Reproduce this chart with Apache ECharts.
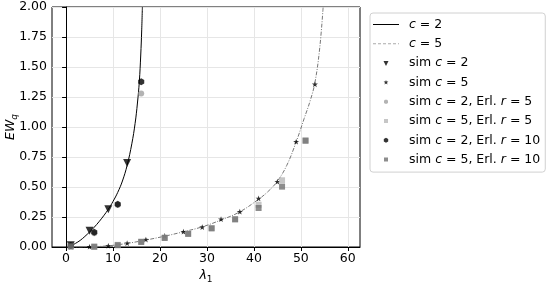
<!DOCTYPE html>
<html>
<head>
    <meta charset="utf-8"/>
    <title>EWq</title>
    <script src="https://cdn.jsdelivr.net/npm/echarts@6/dist/echarts.min.js"></script>
    <style>
        body { margin: 0; background: #fff; }
        #main { width: 550px; height: 284px; }
    </style>
</head>
<body>
<div id="main"></div>
<script type="text/javascript">
    // tick labels
    var xTicks = [0, 10, 20, 30, 40, 50, 60];

    // theoretical curves
    var curveC2 = [[1, 0.008], [2, 0.03], [3, 0.055], [4, 0.088], [5, 0.125], [6, 0.165], [7, 0.21],
        [8, 0.26], [9, 0.315], [10, 0.38], [11, 0.455], [12, 0.55], [13, 0.68], [14, 0.86],
        [14.7, 1.03], [15.2, 1.2], [15.6, 1.38], [15.9, 1.6], [16.1, 1.8], [16.25, 2.0]];
    var curveC5 = [[1, 0.0], [5, 0.002], [9, 0.01], [13, 0.03], [17, 0.058], [21, 0.09], [25, 0.127],
        [29, 0.168], [33, 0.225], [37, 0.293], [41, 0.398], [43, 0.462], [45, 0.548], [47, 0.68],
        [49, 0.875], [50.7, 1.07], [52, 1.22], [53, 1.37], [54, 1.65], [54.75, 2.0]];

    // simulation points
    var simC2 = [[1, 0.015], [5, 0.135], [9, 0.315], [13, 0.70]];
    var simC5 = [[1, 0.0], [5, 0.002], [9, 0.01], [13, 0.032], [17, 0.062], [21, 0.093], [25, 0.128],
        [29, 0.166], [33, 0.232], [37, 0.294], [41, 0.405], [45, 0.545], [49, 0.878], [53, 1.356]];
    var simC2r5 = [[1, 0.01], [6, 0.115], [11, 0.35], [16, 1.28]];
    var simC5r5 = [[1, 0.005], [6, 0.003], [11, 0.018], [16, 0.045], [21, 0.08], [26, 0.113],
        [31, 0.158], [36, 0.233], [41, 0.352], [46, 0.556], [51, 0.89]];
    var simC2r10 = [[1, 0.012], [6, 0.122], [11, 0.356], [16, 1.378]];
    var simC5r10 = [[1, 0.005], [6, 0.002], [11, 0.015], [16, 0.042], [21, 0.075], [26, 0.109],
        [31, 0.155], [36, 0.23], [41, 0.325], [46, 0.503], [51, 0.885]];

    var STAR = 'path://M0,-10L2.35,-3.24L9.51,-3.09L3.8,1.24L5.88,8.09L0,4L-5.88,8.09L-3.8,1.24L-9.51,-3.09L-2.35,-3.24Z';
    var HEX = 'path://M0,-10L8.66,-5L8.66,5L0,10L-8.66,5L-8.66,-5Z';

    // legend icons: a 26x10 box (corner points) with a small mark in the middle
    var BOX = 'M-13,-5L-13,-5Z M13,5L13,5Z ';
    var legendIcons = {
        'c = 2': 'path://M-13,-0.5L13,-0.5L13,0.5L-13,0.5Z',
        'c = 5': 'path://M-13,-0.5L-10,-0.5L-10,0.5L-13,0.5Z M-8,-0.5L-5,-0.5L-5,0.5L-8,0.5Z M-3,-0.5L0,-0.5L0,0.5L-3,0.5Z M2,-0.5L5,-0.5L5,0.5L2,0.5Z M7,-0.5L10,-0.5L10,0.5L7,0.5Z M12,-0.5L13,-0.5L13,0.5L12,0.5Z',
        'sim c = 2': 'path://' + BOX + 'M-2.5,-2.2L2.5,-2.2L0,2.8Z',
        'sim c = 5': 'path://' + BOX + 'M0,-2.5L0.6,-0.8L2.4,-0.8L1,0.3L1.5,2L0,1L-1.5,2L-1,0.3L-2.4,-0.8L-0.6,-0.8Z',
        'sim c = 2, Erl. r = 5': 'path://' + BOX + 'M-2,-1L-1,-2L1,-2L2,-1L2,1L1,2L-1,2L-2,1Z',
        'sim c = 5, Erl. r = 5': 'path://' + BOX + 'M-2,-2L2,-2L2,2L-2,2Z',
        'sim c = 2, Erl. r = 10': 'path://' + BOX + 'M0,-2.5L2.2,-1.25L2.2,1.25L0,2.5L-2.2,1.25L-2.2,-1.25Z',
        'sim c = 5, Erl. r = 10': 'path://' + BOX + 'M-2,-2L2,-2L2,2L-2,2Z'
    };
    var legendNames = Object.keys(legendIcons);

    var font = 'DejaVu Sans';
    var fs = 12.5;
    var rich = {
        i: {fontFamily: font, fontSize: fs, fontStyle: 'italic', color: '#000'},
        n: {fontFamily: font, fontSize: fs, color: '#000'}
    };

    var chart = echarts.init(document.getElementById('main'));
    chart.setOption({
        animation: false,
        grid: {
            left: 52, right: 190, top: 7, bottom: 37,
            outerBoundsMode: 'none', containLabel: false,
            show: true, borderColor: '#000', borderWidth: 1
        },
        legend: {
            orient: 'vertical',
            left: 370, top: 13,
            padding: [4, 5, 5, 3],
            itemWidth: 26, itemHeight: 10, itemGap: 4.3,
            backgroundColor: '#fff',
            borderColor: '#d0d0d0', borderWidth: 1, borderRadius: 3,
            textStyle: {fontFamily: font, fontSize: fs, color: '#000', lineHeight: 15, padding: [0, 0, 0, 5], rich: rich},
            data: legendNames.map(function (n) { return {name: n, icon: legendIcons[n]}; }),
            formatter: function (name) {
                return {
                    'c = 2': '{i|c} {n|= 2}',
                    'c = 5': '{i|c} {n|= 5}',
                    'sim c = 2': '{n|sim} {i|c} {n|= 2}',
                    'sim c = 5': '{n|sim} {i|c} {n|= 5}',
                    'sim c = 2, Erl. r = 5': '{n|sim} {i|c} {n|= 2, Erl.} {i|r} {n|= 5}',
                    'sim c = 5, Erl. r = 5': '{n|sim} {i|c} {n|= 5, Erl.} {i|r} {n|= 5}',
                    'sim c = 2, Erl. r = 10': '{n|sim} {i|c} {n|= 2, Erl.} {i|r} {n|= 10}',
                    'sim c = 5, Erl. r = 10': '{n|sim} {i|c} {n|= 5, Erl.} {i|r} {n|= 10}'
                }[name];
            }
        },
        xAxis: {
            type: 'value', min: -3, max: 62.6,
            name: '{i|λ}{s|1}', nameLocation: 'middle', nameGap: 21, nameMoveOverlap: false,
            nameTextStyle: {
                rich: {
                    i: {fontFamily: font, fontSize: fs, fontStyle: 'italic', color: '#000'},
                    s: {fontFamily: font, fontSize: 9, color: '#000', padding: [7, 0, 0, 0]}
                }
            },
            axisLine: {show: true, lineStyle: {color: '#000'}},
            axisTick: {show: true, customValues: xTicks, length: 4, lineStyle: {color: '#000'}},
            axisLabel: {customValues: xTicks, fontFamily: font, fontSize: fs, color: '#000', margin: 5},
            splitLine: {show: true, lineStyle: {color: '#e6e6e6'}}
        },
        yAxis: {
            type: 'value', min: 0, max: 2, interval: 0.25,
            name: '{i|EW}{s|q}', nameLocation: 'middle', nameGap: 33, nameRotate: 90, nameMoveOverlap: false,
            nameTextStyle: {
                rich: {
                    i: {fontFamily: font, fontSize: fs, fontStyle: 'italic', color: '#000'},
                    s: {fontFamily: font, fontSize: 9, fontStyle: 'italic', color: '#000', padding: [7, 0, 0, 0]}
                }
            },
            axisLine: {show: true, lineStyle: {color: '#000'}},
            axisTick: {show: true, length: 4, lineStyle: {color: '#000'}},
            axisLabel: {
                fontFamily: font, fontSize: fs, color: '#000', margin: 5,
                formatter: function (v) { return v.toFixed(2); }
            },
            splitLine: {show: true, lineStyle: {color: '#e6e6e6'}}
        },
        series: [
            {
                name: 'c = 2', type: 'line', data: curveC2, smooth: 0.4,
                showSymbol: false, symbol: 'none', itemStyle: {color: '#000'},
                lineStyle: {color: '#000', width: 1}, z: 3
            },
            {
                name: 'c = 5', type: 'line', data: curveC5, smooth: 0.4,
                showSymbol: false, symbol: 'none', itemStyle: {color: '#aaa'},
                lineStyle: {color: '#777', width: 1, type: [4, 1.5, 1, 1.5]}, z: 3
            },
            {
                name: 'sim c = 2', type: 'scatter', data: simC2, symbol: 'triangle', symbolRotate: 180,
                symbolSize: 8, itemStyle: {color: '#000'}, z: 4
            },
            {
                name: 'sim c = 5', type: 'scatter', data: simC5, symbol: STAR, symbolKeepAspect: true,
                symbolSize: 6, itemStyle: {color: '#000'}, z: 4
            },
            {
                name: 'sim c = 2, Erl. r = 5', type: 'scatter', data: simC2r5, symbol: 'circle',
                symbolSize: 6, itemStyle: {color: '#a0a0a0'}, z: 4
            },
            {
                name: 'sim c = 5, Erl. r = 5', type: 'scatter', data: simC5r5, symbol: 'rect',
                symbolSize: 6, itemStyle: {color: '#b8b8b8'}, z: 4
            },
            {
                name: 'sim c = 2, Erl. r = 10', type: 'scatter', data: simC2r10, symbol: HEX, symbolKeepAspect: true,
                symbolSize: 7, itemStyle: {color: '#000'}, z: 4
            },
            {
                name: 'sim c = 5, Erl. r = 10', type: 'scatter', data: simC5r10, symbol: 'rect',
                symbolSize: 6, itemStyle: {color: '#707070'}, z: 4
            }
        ]
    });
</script>
</body>
</html>
